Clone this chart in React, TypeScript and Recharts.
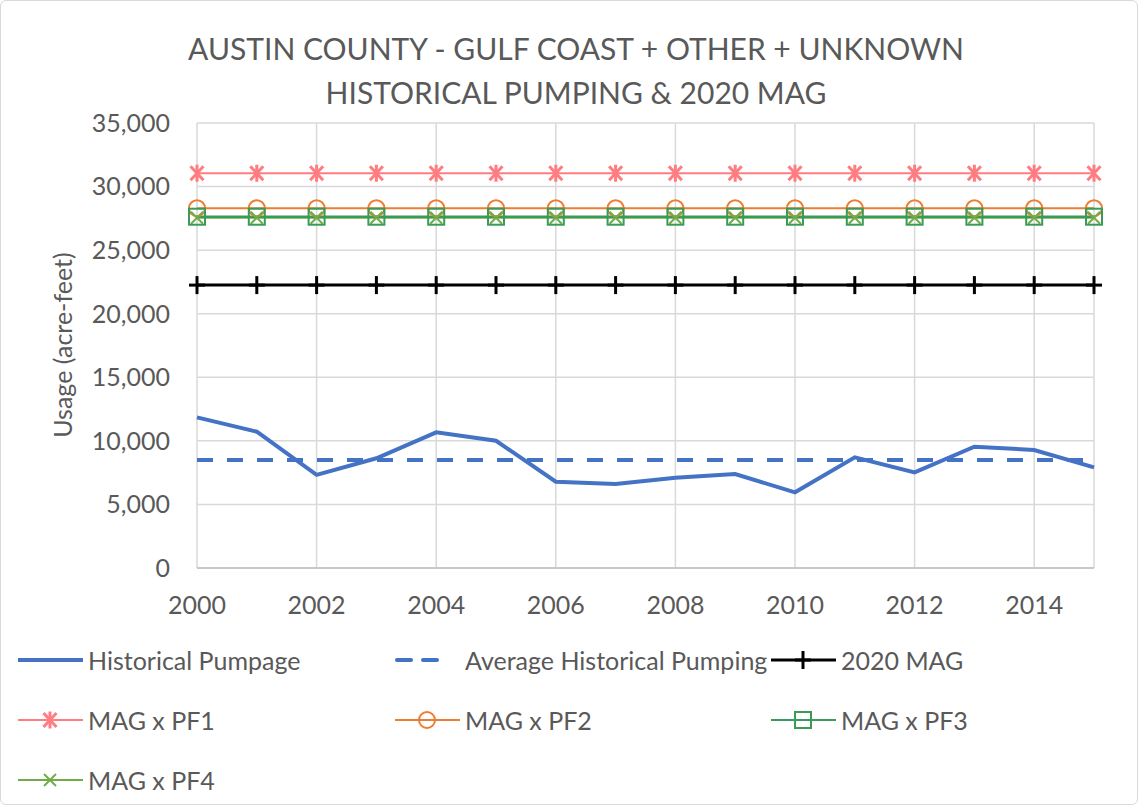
import React from 'react'
import { LineChart, Line, XAxis, YAxis, CartesianGrid, Label } from 'recharts'

// values
const years = [2000, 2001, 2002, 2003, 2004, 2005, 2006, 2007, 2008, 2009, 2010, 2011, 2012, 2013, 2014, 2015]
const historical = [11850, 10720, 7320, 8630, 10670, 10010, 6790, 6610, 7100, 7390, 5950, 8700, 7520, 9540, 9280, 7920]
const averageHistorical = 8500
const mag2020 = 22250
const magPF1 = 31050
const magPF2 = 28300
const magPF3 = 27630
const magPF4 = 27550
const yTicks = [0, 5000, 10000, 15000, 20000, 25000, 30000, 35000]
const xTicks = [2000, 2002, 2004, 2006, 2008, 2010, 2012, 2014]

const data = years.map((year, i) => ({
  year,
  historical: historical[i],
  average: averageHistorical,
  mag: mag2020,
  pf1: magPF1,
  pf2: magPF2,
  pf3: magPF3,
  pf4: magPF4,
}))

const FONT = 'Lato, "Open Sans", sans-serif'
const TEXT = '#595959'
const BLUE = '#4472c4'
const PINK = '#ff7c80'
const ORANGE = '#ed7d31'
const DKGREEN = '#3a9a57'
const LTGREEN = '#70ad47'

type MarkerProps = { cx: number; cy: number }

const Star = ({ cx, cy }: MarkerProps) => (
  <g stroke={PINK} strokeWidth={3} fill="none">
    <line x1={cx - 6.5} y1={cy - 7} x2={cx + 6.5} y2={cy + 7} />
    <line x1={cx - 6.5} y1={cy + 7} x2={cx + 6.5} y2={cy - 7} />
    <line x1={cx} y1={cy - 8.5} x2={cx} y2={cy + 8.5} />
  </g>
)
const Circle = ({ cx, cy }: MarkerProps) => (
  <circle cx={cx} cy={cy} r={8} stroke={ORANGE} strokeWidth={2} fill="none" />
)
const Square = ({ cx, cy }: MarkerProps) => (
  <rect x={cx - 8} y={cy - 8} width={16} height={16} stroke={DKGREEN} strokeWidth={2} fill="none" />
)
const Cross = ({ cx, cy }: MarkerProps) => (
  <g stroke={LTGREEN} strokeWidth={2}>
    <line x1={cx - 6} y1={cy - 6} x2={cx + 6} y2={cy + 6} />
    <line x1={cx - 6} y1={cy + 6} x2={cx + 6} y2={cy - 6} />
  </g>
)
const Plus = ({ cx, cy }: MarkerProps) => (
  <g stroke="#000" strokeWidth={3}>
    <line x1={cx} y1={cy - 9} x2={cx} y2={cy + 9} />
    <line x1={cx - 8} y1={cy} x2={cx + 8} y2={cy} />
  </g>
)

const dotOf = (Shape: React.FC<MarkerProps>) => (p: any) => <Shape key={p.index} cx={p.cx} cy={p.cy} />

const legendItems = [
  { name: 'Historical Pumpage', color: BLUE, width: 4, dash: undefined, marker: null },
  { name: 'Average Historical Pumping', color: BLUE, width: 4, dash: '14 12', marker: null },
  { name: '2020 MAG', color: '#000', width: 3, dash: undefined, marker: Plus },
  { name: 'MAG x PF1', color: PINK, width: 2, dash: undefined, marker: Star },
  { name: 'MAG x PF2', color: ORANGE, width: 2, dash: undefined, marker: Circle },
  { name: 'MAG x PF3', color: DKGREEN, width: 2, dash: undefined, marker: Square },
  { name: 'MAG x PF4', color: LTGREEN, width: 2, dash: undefined, marker: Cross },
]

function ChartLegend() {
  return (
    <div
      style={{
        position: 'absolute',
        left: 17,
        top: 629,
        display: 'grid',
        gridTemplateColumns: '377px 376px 300px',
        gridAutoRows: '60px',
        fontFamily: FONT,
        fontSize: 25,
        color: TEXT,
      }}
    >
      {legendItems.map((it) => {
        const M = it.marker
        return (
          <div key={it.name} style={{ display: 'flex', alignItems: 'center' }}>
            <svg width={65} height={24} style={{ marginRight: 5, flex: 'none' }}>
              {it.dash ? (
                <line x1={2} y1={12} x2={54} y2={12} stroke={it.color} strokeWidth={it.width} strokeDasharray={it.dash} strokeLinecap="round" />
              ) : (
                <line x1={0} y1={12} x2={65} y2={12} stroke={it.color} strokeWidth={it.width} strokeLinecap={it.width > 3 ? 'round' : 'butt'} />
              )}
              {M && <M cx={32} cy={12} />}
            </svg>
            <span style={{ whiteSpace: 'nowrap' }}>{it.name}</span>
          </div>
        )
      })}
    </div>
  )
}

export default function App() {
  return (
    <div
      style={{
        position: 'absolute',
        left: 0,
        top: 0,
        width: 1138,
        height: 805,
        background: '#fff',
        border: '1px solid #d9d9d9',
        borderRadius: 6,
        boxSizing: 'border-box',
        overflow: 'hidden',
      }}
    >
      <div
        style={{
          position: 'absolute',
          left: 0,
          top: 25,
          width: 1150,
          textAlign: 'center',
          fontFamily: FONT,
          fontSize: 30,
          lineHeight: '44px',
          color: TEXT,
        }}
      >
        AUSTIN COUNTY - GULF COAST + OTHER + UNKNOWN
        <br />
        HISTORICAL PUMPING &amp; 2020 MAG
      </div>
      <div style={{ position: 'absolute', left: -1, top: -1 }}>
        <LineChart width={1138} height={805} data={data} margin={{ top: 123, right: 44, bottom: 177, left: 0 }}>
          <CartesianGrid stroke="#d9d9d9" strokeWidth={1.5} />
          <XAxis
            dataKey="year"
            type="number"
            domain={[2000, 2015]}
            ticks={xTicks}
            height={60}
            tickSize={0}
            tickMargin={28}
            axisLine={{ stroke: '#bfbfbf', strokeWidth: 1.5 }}
            tick={{ fill: TEXT, fontSize: 25, fontFamily: FONT }}
          />
          <YAxis
            type="number"
            domain={[0, 35000]}
            ticks={yTicks}
            width={197}
            tickSize={0}
            tickMargin={27}
            axisLine={false}
            tickFormatter={(v: number) => v.toLocaleString('en-US')}
            tick={{ fill: TEXT, fontSize: 25, fontFamily: FONT }}
          >
            <Label
              content={() => (
                <text
                  x={72}
                  y={345}
                  transform="rotate(-90 72 345)"
                  textAnchor="middle"
                  fill={TEXT}
                  fontSize={25}
                  fontFamily={FONT}
                >
                  Usage (acre-feet)
                </text>
              )}
            />
          </YAxis>
          <Line dataKey="historical" stroke={BLUE} strokeWidth={4} dot={false} isAnimationActive={false} />
          <Line dataKey="average" stroke={BLUE} strokeWidth={4} strokeDasharray="16 14" dot={false} isAnimationActive={false} />
          <Line dataKey="mag" stroke="#000" strokeWidth={3} dot={dotOf(Plus)} isAnimationActive={false} />
          <Line dataKey="pf1" stroke={PINK} strokeWidth={2} dot={dotOf(Star)} isAnimationActive={false} />
          <Line dataKey="pf2" stroke={ORANGE} strokeWidth={2} dot={dotOf(Circle)} isAnimationActive={false} />
          <Line dataKey="pf4" stroke={LTGREEN} strokeWidth={2} dot={dotOf(Cross)} isAnimationActive={false} />
          <Line dataKey="pf3" stroke={DKGREEN} strokeWidth={2.5} dot={dotOf(Square)} isAnimationActive={false} />
        </LineChart>
      </div>
      <ChartLegend />
    </div>
  )
}
